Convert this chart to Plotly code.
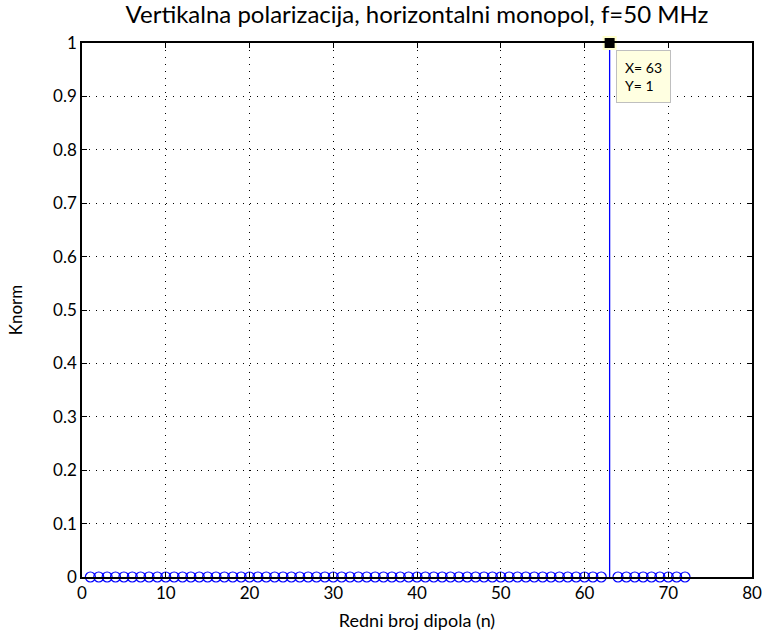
import plotly.graph_objects as go

# Normalised coefficients per dipole index
n_idx = list(range(1, 73))
knorm = [0.0] * len(n_idx)
knorm[n_idx.index(63)] = 1.0

x_ticks = [0, 10, 20, 30, 40, 50, 60, 70, 80]
y_ticks = [0, 0.1, 0.2, 0.3, 0.4, 0.5, 0.6, 0.7, 0.8, 0.9, 1]

tip_x, tip_y = 63, 1

FONT = "Lato"
BLUE = "#0000ff"

# stem lines
sx, sy = [], []
for xv, yv in zip(n_idx, knorm):
    if yv != 0:
        sx += [xv, xv, None]
        sy += [0, yv, None]

mx = [xv for xv, yv in zip(n_idx, knorm) if yv == 0]
my = [yv for yv in knorm if yv == 0]

fig = go.Figure()
fig.add_trace(go.Scatter(x=sx, y=sy, mode="lines",
                         line=dict(color=BLUE, width=1.3),
                         cliponaxis=False, hoverinfo="skip"))
fig.add_trace(go.Scatter(x=mx, y=my, mode="markers",
                         marker=dict(symbol="circle-open", size=10,
                                     color=BLUE, line=dict(width=1.2)),
                         cliponaxis=False))
# data tip marker
fig.add_trace(go.Scatter(x=[tip_x], y=[tip_y], mode="markers",
                         marker=dict(symbol="square", size=12, color="black",
                                     line=dict(color="#ffffcc", width=2)),
                         cliponaxis=False))

fig.add_annotation(x=tip_x, y=tip_y, xref="x", yref="y",
                   text="X= 63<br>Y= 1", showarrow=False,
                   xanchor="left", yanchor="top", xshift=6, yshift=-7,
                   align="left", bgcolor="#ffffe1", bordercolor="#bfbfbf",
                   borderwidth=1, borderpad=8,
                   font=dict(family=FONT, size=14, color="black"))

axis_common = dict(showline=True, linecolor="black", linewidth=1.5,
                   mirror="allticks", ticks="inside", ticklen=5,
                   tickcolor="black", showgrid=True, gridcolor="black",
                   griddash="1px,6px", gridwidth=1, zeroline=False,
                   automargin=False,
                   tickfont=dict(family=FONT, size=17, color="black"))

fig.update_xaxes(range=[0, 80], tickvals=x_ticks,
                 title=dict(text="Redni broj dipola (n)", standoff=12,
                            font=dict(family=FONT, size=18, color="black")),
                 **axis_common)
fig.update_yaxes(range=[0, 1], tickvals=y_ticks,
                 ticktext=[str(v) if v not in (0, 1) else str(int(v)) for v in y_ticks],
                 title=dict(text="Knorm", standoff=26,
                            font=dict(family=FONT, size=17, color="black")),
                 **axis_common)

fig.update_layout(
    width=767, height=632,
    margin=dict(l=82, r=15, t=43, b=55),
    paper_bgcolor="white", plot_bgcolor="white",
    showlegend=False,
    title=dict(text="Vertikalna polarizacija, horizontalni monopol, f=50 MHz",
               x=0.5, xref="paper", xanchor="center", y=1, yref="container",
               yanchor="top", pad=dict(t=6),
               font=dict(family=FONT, size=24, color="black")),
)

fig.write_html("out.html")
